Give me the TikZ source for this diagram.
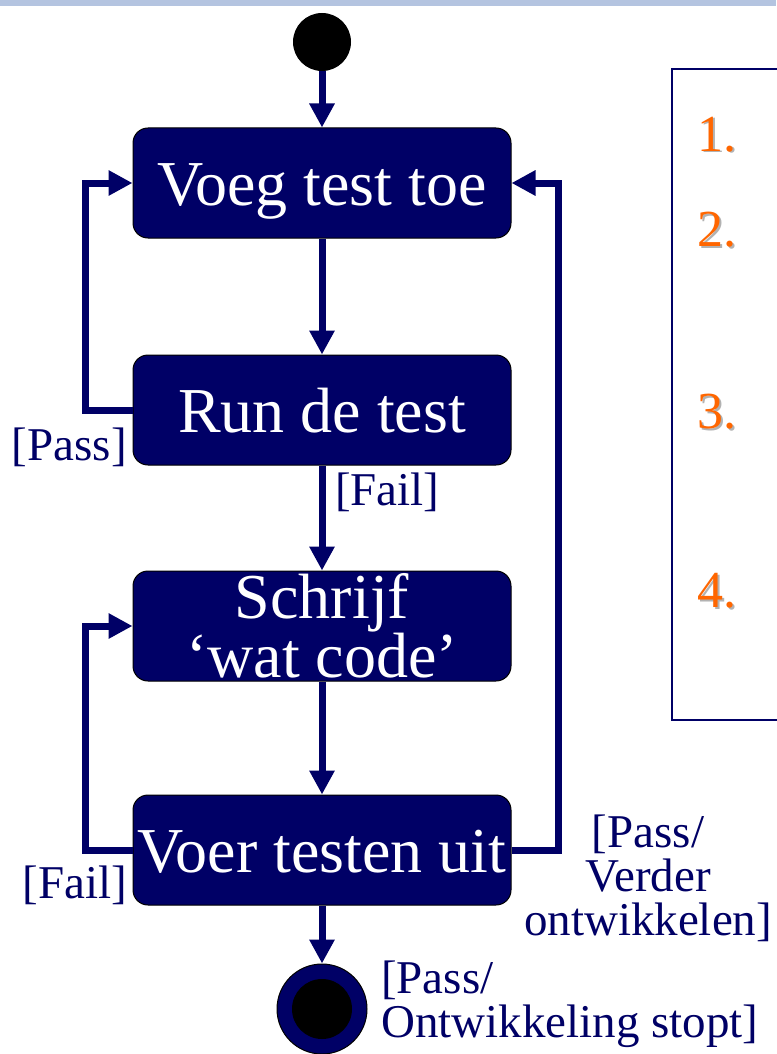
\documentclass[tikz,border=0pt]{standalone}
\usepackage{fontspec}
\setmainfont{Liberation Serif}
\usetikzlibrary{arrows.meta}
\definecolor{navy}{HTML}{000066}
\definecolor{topbar}{HTML}{B4C4E0}
\definecolor{numorange}{HTML}{FF6600}
\tikzset{
  boxstate/.style={draw=black, line width=1pt, fill=navy, rounded corners=15pt,
    minimum width=378pt, minimum height=110pt, inner sep=0pt, text=white,
    font=\fontsize{64}{40}\selectfont, align=center},
  flow/.style={draw=navy, line width=7pt, -{Triangle[width=24pt,length=24pt]}},
  guard/.style={text=navy, font=\fontsize{47}{44}\selectfont, inner sep=0pt},
  numlbl/.style={font=\fontsize{52}{52}\selectfont, inner sep=0pt, anchor=base west}
}
\begin{document}
\begin{tikzpicture}[x=1pt,y=-1pt]
\useasboundingbox (0,0) rectangle (776,1054);
\fill[white] (0,0) rectangle (776,1054);
\fill[topbar] (0,0) rectangle (776,6);

% nodes
\node[circle, fill=black, minimum size=58pt, inner sep=0pt] (start) at (322,42) {};
\node[boxstate, text height=44pt, text depth=0pt] (b1) at (322,183) {Voeg test toe};
\node[boxstate, text height=44pt, text depth=0pt] (b2) at (322,410) {Run de test};
\node[boxstate] (b3) at (322,626) {Schrijf\\‘wat code’};
\node[boxstate, text height=44pt, text depth=0pt] (b4) at (322,850) {Voer testen uit};
\node[circle, draw=black, line width=1pt, fill=navy, minimum size=90pt, inner sep=0pt] (stop) at (322,1009) {};
\node[circle, fill=black, minimum size=60pt, inner sep=0pt] (stopin) at (stop.center) {};

% connectors
\draw[flow] (start) -- (b1);
\draw[flow] (b1) -- (b2);
\draw[flow] (b2) -- (b3);
\draw[flow] (b3) -- (b4);
\draw[flow] (b4) -- (stop);
\draw[flow] (b2.west) -- ++(-47,0) |- (b1.west);
\draw[flow] (b4.west) -- ++(-47,0) |- (b3.west);
\draw[flow] (b4.east) -- ++(47,0) |- (b1.east);

% guards
\node[guard, anchor=base east] (gpass) at (127,460) {[Pass]};
\node[guard, anchor=base west] (gfail) at (335,505) {[Fail]};
\node[guard, anchor=base east] (gfail2) at (127,898) {[Fail]};
\node[guard, anchor=base, align=center] (gcont) at (648,935) {[Pass/\\Verder\\ontwikkelen]};
\node[guard, anchor=base west, align=left] (gstop) at (381,1037) {[Pass/\\Ontwikkeling stopt]};

% right panel
\draw[navy, line width=2pt] (672,69) rectangle (790,720);
\foreach \n/\y in {1/151,2/246,3/428,4/607}{
  \node[numlbl, text=black!30] at (699,\y+2) {\n.};
  \node[numlbl, text=numorange] (num\n) at (697,\y) {\n.};
}
\end{tikzpicture}
\end{document}
